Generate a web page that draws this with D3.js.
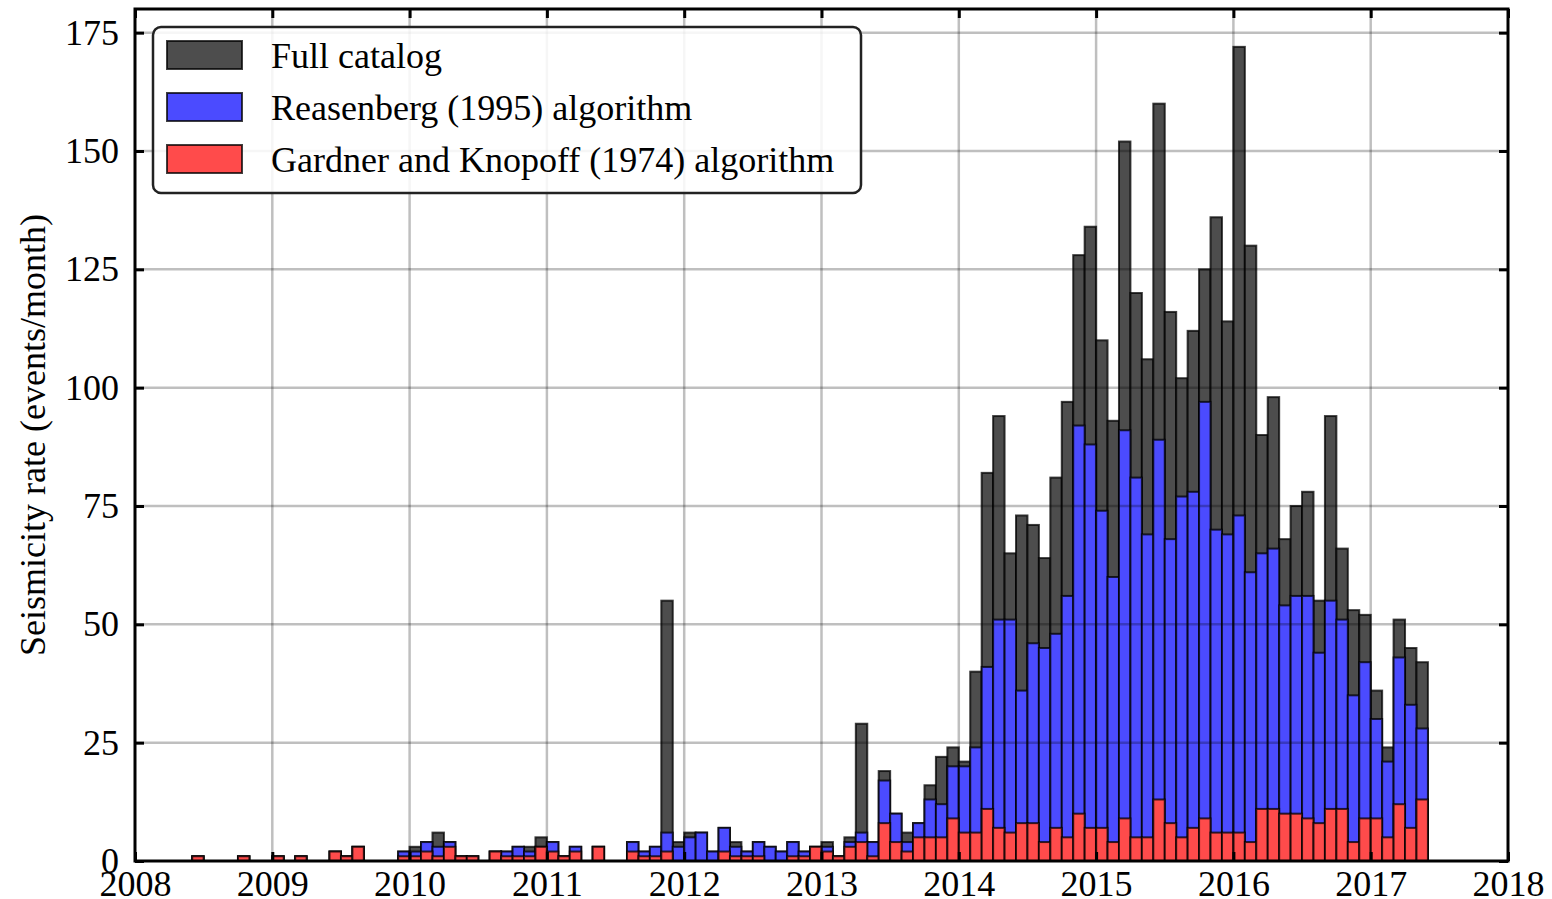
<!DOCTYPE html>
<html>
<head>
<meta charset="utf-8">
<script src="https://cdn.jsdelivr.net/npm/d3@7"></script>
<style>
  body { margin: 0; background: #fff; }
  text { font-family: "Liberation Serif", "Times New Roman", serif; fill: #000; }
</style>
</head>
<body>
<div id="chart-area"></div>
<script>
// monthly event counts, one value per month from Jan 2008 to May 2017
var startYear = 2008;

var fullCatalog = [
    0, 0, 0, 0, 0, 1, 0, 0, 0, 1, 0, 0,            // 2008
    1, 0, 1, 0, 0, 2, 1, 3, 0, 0, 0, 2,            // 2009
    3, 4, 6, 4, 1, 1, 0, 2, 2, 3, 3, 5,            // 2010
    4, 1, 3, 0, 3, 0, 0, 4, 2, 3, 55, 4,           // 2011
    6, 6, 2, 7, 4, 2, 4, 3, 2, 4, 2, 3,            // 2012
    4, 1, 5, 29, 4, 19, 10, 6, 8, 16, 22, 24,      // 2013
    21, 40, 82, 94, 65, 73, 71, 64, 81, 97, 128, 134,      // 2014
    110, 93, 152, 120, 106, 160, 116, 102, 112, 125, 136, 114, // 2015
    172, 130, 90, 98, 68, 75, 78, 55, 94, 66, 53, 52,      // 2016
    36, 24, 51, 45, 42                              // 2017
];

var reasenberg = [
    0, 0, 0, 0, 0, 1, 0, 0, 0, 1, 0, 0,
    1, 0, 1, 0, 0, 2, 1, 3, 0, 0, 0, 2,
    2, 4, 3, 4, 1, 1, 0, 2, 2, 3, 2, 3,
    4, 1, 3, 0, 3, 0, 0, 4, 2, 3, 6, 3,
    5, 6, 2, 7, 3, 2, 4, 3, 2, 4, 2, 3,
    3, 1, 4, 6, 4, 17, 10, 4, 8, 13, 12, 20,
    20, 24, 41, 51, 51, 36, 46, 45, 48, 56, 92, 88,
    74, 60, 91, 81, 69, 89, 68, 77, 78, 97, 70, 69,
    73, 61, 65, 66, 54, 56, 56, 44, 55, 51, 35, 42,
    30, 21, 43, 33, 28
];

var gardnerKnopoff = [
    0, 0, 0, 0, 0, 1, 0, 0, 0, 1, 0, 0,
    1, 0, 1, 0, 0, 2, 1, 3, 0, 0, 0, 1,
    1, 2, 1, 3, 1, 1, 0, 2, 1, 1, 1, 3,
    2, 1, 2, 0, 3, 0, 0, 2, 1, 1, 2, 0,
    0, 0, 0, 2, 1, 1, 1, 0, 0, 1, 1, 3,
    2, 1, 3, 4, 1, 8, 4, 2, 5, 5, 5, 9,
    6, 6, 11, 7, 6, 8, 8, 4, 7, 5, 10, 7,
    7, 4, 9, 5, 5, 13, 8, 5, 7, 9, 6, 6,
    6, 4, 11, 11, 10, 10, 9, 8, 11, 11, 4, 9,
    9, 5, 12, 7, 13
];

var seriesNames = ["Full catalog", "Reasenberg (1995) algorithm", "Gardner and Knopoff (1974) algorithm"];
var seriesColors = ["#4d4d4d", "#4b4bff", "#ff4b4b"];
var yTicks = [0, 25, 50, 75, 100, 125, 150, 175];
var xTicks = [2008, 2009, 2010, 2011, 2012, 2013, 2014, 2015, 2016, 2017, 2018];

var W = 1552, H = 899;
var plotLeft = 135, plotRight = 1508, plotTop = 9, plotBottom = 861;
var fontSize = "36px";

var svg = d3.select("#chart-area")
    .append("svg")
    .attr("width", W)
    .attr("height", H);

var x = d3.scaleLinear().domain([2008, 2018]).range([plotLeft, plotRight]);
var y = d3.scaleLinear().domain([0, 180]).range([plotBottom, plotTop]);

var allSeries = [fullCatalog, reasenberg, gardnerKnopoff];

// bars - each series is drawn over the previous one
allSeries.forEach(function (values, s) {
    var rows = values.map(function (v, i) { return { i: i, v: v }; })
        .filter(function (d) { return d.v > 0; });
    svg.append("g")
        .selectAll("rect")
        .data(rows)
        .enter()
        .append("rect")
        .attr("x", function (d) { return x(startYear + d.i / 12); })
        .attr("width", function (d) { return x(startYear + (d.i + 1) / 12) - x(startYear + d.i / 12); })
        .attr("y", function (d) { return y(d.v); })
        .attr("height", function (d) { return y(0) - y(d.v); })
        .attr("fill", seriesColors[s])
        .attr("stroke", "#000")
        .attr("stroke-opacity", 0.75)
        .attr("stroke-width", 2);
});

// grid over the bars
var grid = svg.append("g").attr("stroke", "#000").attr("stroke-opacity", 0.25).attr("stroke-width", 2.5);
grid.selectAll(".gy").data(yTicks.slice(1)).enter().append("line")
    .attr("x1", plotLeft).attr("x2", plotRight)
    .attr("y1", function (d) { return y(d); }).attr("y2", function (d) { return y(d); });
grid.selectAll(".gx").data(xTicks.slice(1, -1)).enter().append("line")
    .attr("y1", plotTop).attr("y2", plotBottom)
    .attr("x1", function (d) { return x(d); }).attr("x2", function (d) { return x(d); });

// axes with inward ticks
var xAxisB = d3.axisBottom(x).tickValues(xTicks).tickFormat(d3.format("d")).tickSize(-9).tickPadding(9);
var xAxisT = d3.axisTop(x).tickValues(xTicks).tickFormat("").tickSize(-9);
var yAxisL = d3.axisLeft(y).tickValues(yTicks).tickSize(-9).tickPadding(16);
var yAxisR = d3.axisRight(y).tickValues(yTicks).tickFormat("").tickSize(-9);

function styleAxis(g) {
    g.select(".domain").remove();
    g.selectAll(".tick line").attr("stroke", "#000").attr("stroke-width", 3);
    g.selectAll(".tick text").style("font-size", fontSize).attr("fill", "#000");
}

svg.append("g").attr("transform", "translate(0," + plotBottom + ")").call(xAxisB).call(styleAxis);
svg.append("g").attr("transform", "translate(0," + plotTop + ")").call(xAxisT).call(styleAxis);
svg.append("g").attr("transform", "translate(" + plotLeft + ",0)").call(yAxisL).call(styleAxis);
svg.append("g").attr("transform", "translate(" + plotRight + ",0)").call(yAxisR).call(styleAxis);

svg.append("rect")
    .attr("x", plotLeft).attr("y", plotTop)
    .attr("width", plotRight - plotLeft).attr("height", plotBottom - plotTop)
    .attr("fill", "none").attr("stroke", "#000").attr("stroke-width", 3);

// y label
svg.append("text")
    .attr("transform", "translate(45," + ((plotTop + plotBottom) / 2) + ") rotate(-90)")
    .attr("text-anchor", "middle")
    .style("font-size", fontSize)
    .text("Seismicity rate (events/month)");

// legend
var legend = svg.append("g").attr("transform", "translate(153,27)");
legend.append("rect")
    .attr("width", 708).attr("height", 166)
    .attr("rx", 8).attr("ry", 8)
    .attr("fill", "#fff").attr("fill-opacity", 0.85)
    .attr("stroke", "#222").attr("stroke-width", 2.5);

var items = legend.selectAll(".item")
    .data(seriesNames)
    .enter()
    .append("g")
    .attr("transform", function (d, i) { return "translate(0," + (28 + i * 52) + ")"; });
items.append("rect")
    .attr("x", 14).attr("y", -14)
    .attr("width", 75).attr("height", 28)
    .attr("fill", function (d, i) { return seriesColors[i]; })
    .attr("stroke", "#000").attr("stroke-opacity", 0.75).attr("stroke-width", 2);
items.append("text")
    .attr("x", 118).attr("y", 0)
    .attr("dy", "0.35em")
    .style("font-size", fontSize)
    .text(function (d) { return d; });
</script>
</body>
</html>
